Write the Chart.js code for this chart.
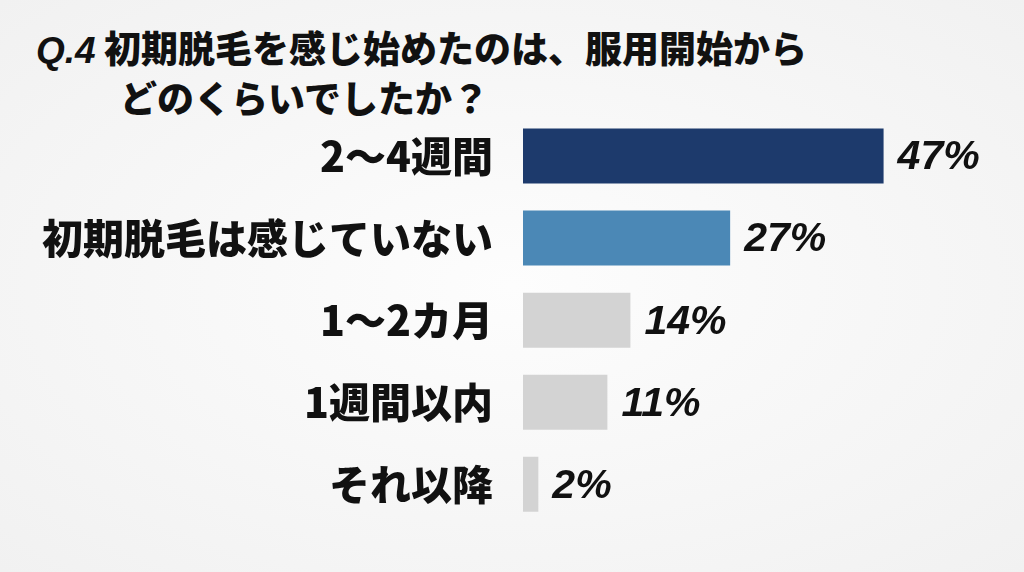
<!DOCTYPE html>
<html><head><meta charset="utf-8">
<script src="https://cdn.jsdelivr.net/npm/chart.js@4"></script>
<style>
html,body{margin:0;padding:0;width:1024px;height:572px;overflow:hidden;background:radial-gradient(ellipse at center,#fdfdfd 0%,#f1f1f1 100%);font-family:"Noto Sans CJK JP",sans-serif;}
#t1,#t2{position:absolute;font-weight:900;font-size:37px;color:#111;white-space:nowrap;}
#t1{left:36px;top:20px}
#t2{left:120px;top:70px}
#t1 i{font-family:"Liberation Sans",sans-serif;font-weight:bold;}
#wrap{position:absolute;left:0;top:0;width:1024px;height:572px}
</style></head><body>
<div id="t1"><i>Q.4</i> 初期脱毛を感じ始めたのは、服用開始から</div>
<div id="t2">どのくらいでしたか？</div>
<div id="wrap"><canvas id="c"></canvas></div>
<script>
const categories = ['2〜4週間', '初期脱毛は感じていない', '1〜2カ月', '1週間以内', 'それ以降'];
const percents = [47, 27, 14, 11, 2];
const barColors = ['#1d3a6c', '#4b88b6', '#d3d3d3', '#d3d3d3', '#d3d3d3'];

const valueLabels = {
  id: 'valueLabels',
  afterDatasetsDraw(chart) {
    const ctx = chart.ctx;
    ctx.save();
    ctx.font = 'italic bold 41px "Liberation Sans", sans-serif';
    ctx.fillStyle = '#111';
    ctx.textBaseline = 'middle';
    chart.getDatasetMeta(0).data.forEach((bar, i) => {
      ctx.fillText(percents[i] + '%', bar.x + 14, bar.y + 2);
    });
    ctx.restore();
  }
};

new Chart(document.getElementById('c'), {
  type: 'bar',
  data: {
    labels: categories,
    datasets: [{ data: percents, backgroundColor: barColors, categoryPercentage: 0.67, barPercentage: 1 }]
  },
  options: {
    indexAxis: 'y',
    responsive: true,
    maintainAspectRatio: false,
    animation: false,
    layout: { padding: { top: 115, bottom: 37, right: 10 } },
    plugins: { legend: { display: false }, tooltip: { enabled: false } },
    scales: {
      x: { min: 0, max: 64, display: false },
      y: {
        grid: { display: false }, border: { display: false },
        afterFit(scale) { scale.width = 523; },
        ticks: { color: '#111', padding: 22, font: { family: '"Noto Sans CJK JP"', size: 41, weight: 900 } }
      }
    }
  },
  plugins: [valueLabels]
});
</script>
</body></html>
